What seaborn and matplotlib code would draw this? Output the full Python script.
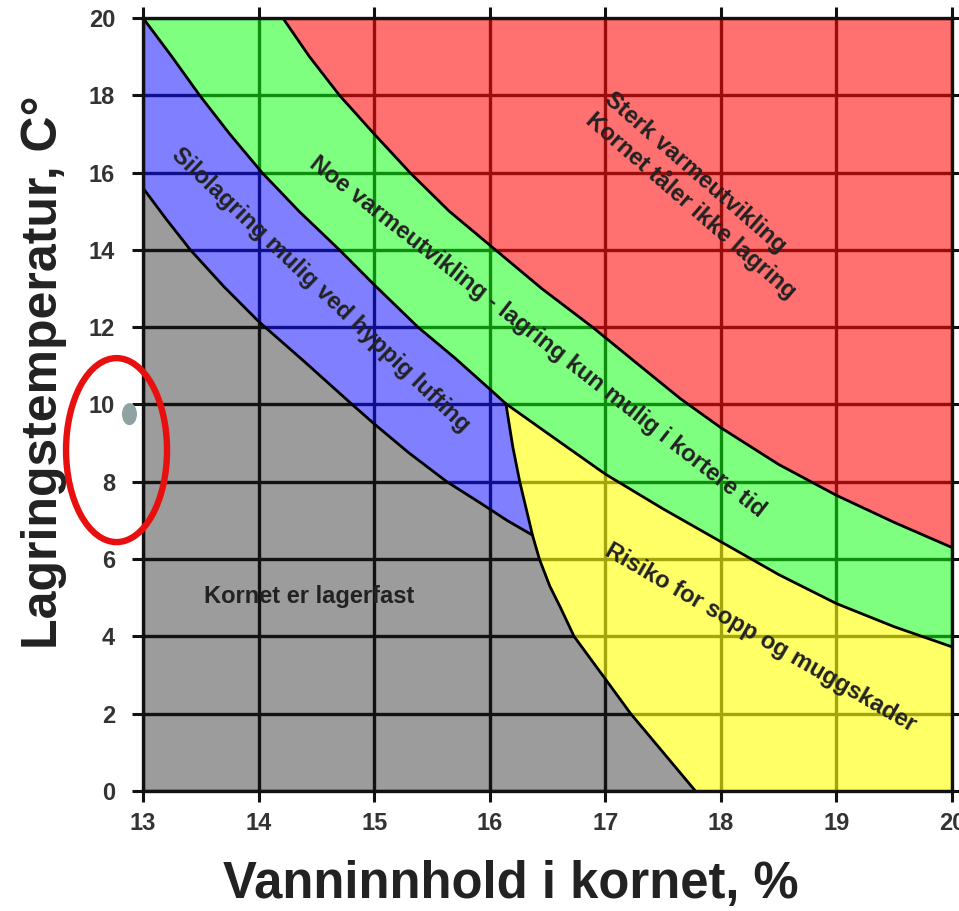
import numpy as np
import matplotlib
matplotlib.use("Agg")
import matplotlib.pyplot as plt
import seaborn as sns
from matplotlib.patches import Ellipse

# ---- data (x = water content %, y = temperature C) ----
x_ticks = [13, 14, 15, 16, 17, 18, 19, 20]
y_ticks = [0, 2, 4, 6, 8, 10, 12, 14, 16, 18, 20]

# lower edge of the blue zone (gray / blue boundary)
blue_low_x = [13.0, 13.2, 13.41, 13.7, 14.0, 14.4, 14.81, 15.0, 15.3, 15.63, 15.92, 16.15, 16.37]
blue_low_y = [15.6, 14.8, 14.0, 13.05, 12.15, 11.1, 10.0, 9.5, 8.75, 8.0, 7.45, 7.0, 6.62]

# upper edge of the blue zone (blue / green boundary)
blue_up_x = [13.0, 13.25, 13.49, 13.75, 14.03, 14.35, 14.7, 15.0, 15.38, 15.7, 16.0, 16.14]
blue_up_y = [20.0, 19.0, 18.0, 17.0, 16.0, 15.0, 14.0, 13.1, 12.0, 11.2, 10.4, 10.02]

# left edge of the yellow zone (blue+gray / yellow boundary)
yel_left_x = [16.14, 16.2, 16.26, 16.37, 16.43, 16.52, 16.61, 16.73, 16.86, 17.0, 17.22, 17.5, 17.78]
yel_left_y = [10.02, 8.9, 8.0, 6.62, 6.0, 5.3, 4.76, 4.0, 3.47, 2.9, 2.0, 1.0, 0.0]

# lower edge of the green zone (green / yellow boundary)
green_low_x = [16.14, 16.55, 17.0, 17.5, 18.0, 18.5, 19.0, 19.5, 20.0]
green_low_y = [10.02, 9.15, 8.2, 7.3, 6.45, 5.6, 4.85, 4.25, 3.73]

# lower edge of the red zone (green / red boundary)
red_low_x = [14.21, 14.44, 14.7, 15.0, 15.31, 15.65, 16.03, 16.45, 16.89, 17.3, 17.65, 18.0, 18.5, 19.0, 19.5, 20.0]
red_low_y = [20.0, 19.0, 18.0, 17.0, 16.0, 15.0, 14.05, 13.0, 12.0, 11.0, 10.15, 9.4, 8.45, 7.65, 6.95, 6.3]

zone_labels = {
    "red": "Sterk varmeutvikling\nKornet tåler ikke lagring",
    "green": "Noe varmeutvikling - lagring kun mulig i kortere tid",
    "blue": "Silolagring mulig ved hyppig lufting",
    "gray": "Kornet er lagerfast",
    "yellow": "Risiko for sopp og muggskader",
}
x_label = "Vanninnhold i kornet, %"
y_label = "Lagringstemperatur, C°"

# ---- style ----
sns.set_style("ticks")
plt.rcParams["font.family"] = ["Liberation Sans", "DejaVu Sans"]

W, H = 959, 911
fig = plt.figure(figsize=(W / 100, H / 100), dpi=100)
ax = fig.add_axes([143 / W, 1 - 791 / H, (952 - 143) / W, (791 - 18) / H])
ax.set_facecolor("white")

bl = np.column_stack([blue_low_x, blue_low_y])
bu = np.column_stack([blue_up_x, blue_up_y])
yl = np.column_stack([yel_left_x, yel_left_y])
gl = np.column_stack([green_low_x, green_low_y])
rl = np.column_stack([red_low_x, red_low_y])
split = 3  # index where the yellow edge meets the blue lower edge

gray_poly = np.vstack([[[13.0, 0.0]], yl[split:][::-1], bl[::-1][1:]])
blue_poly = np.vstack([bl, yl[:split + 1][::-1][1:], bu[::-1][1:]])
yellow_poly = np.vstack([yl, [[20.0, 0.0]], gl[::-1]])
green_poly = np.vstack([bu, gl[1:], rl[::-1]])
red_poly = np.vstack([rl, [[20.0, 20.0]]])

fills = [
    (gray_poly, (0, 0, 0), 0.39),
    (blue_poly, (0, 0, 1), 0.50),
    (yellow_poly, (1, 1, 0), 0.60),
    (green_poly, (0, 1, 0), 0.50),
    (red_poly, (1, 0, 0), 0.56),
]
for poly, col, a in fills:
    ax.fill(poly[:, 0], poly[:, 1], color=col, alpha=a, lw=0, zorder=1)

for xs, ys in [(blue_low_x, blue_low_y), (blue_up_x, blue_up_y),
               (yel_left_x, yel_left_y), (green_low_x, green_low_y),
               (red_low_x, red_low_y)]:
    sns.lineplot(x=xs, y=ys, sort=False, estimator=None, color="black",
                 lw=2.0, ax=ax, zorder=3, solid_joinstyle="round")

ax.set_xlim(13, 20)
ax.set_ylim(0, 20)
ax.set_xticks(x_ticks)
ax.set_yticks(y_ticks)
ax.set_axisbelow(True)
ax.grid(True, color="#1e1e1e", lw=2.4)

for s in ax.spines.values():
    s.set_visible(True)
    s.set_color("#111111")
    s.set_linewidth(2.4)
    s.set_zorder(4)

ax.tick_params(axis="both", which="major", direction="out", length=8, width=2.2,
               color="#111111", top=True, right=True, labeltop=False,
               labelright=False, labelsize=17, labelcolor="#333333")
ax.tick_params(axis="y", pad=12)
ax.tick_params(axis="x", pad=7)
for lab in ax.get_xticklabels() + ax.get_yticklabels():
    lab.set_fontweight("bold")
ax.set_xlabel("")
ax.set_ylabel("")

txt_kw = dict(fontsize=17, fontweight="bold", color="#222222",
              rotation_mode="anchor", ha="center", va="center", zorder=5)
ax.text(17.82, 15.40, zone_labels["red"], rotation=-41, multialignment="left",
        linespacing=1.15, **txt_kw)
ax.text(16.41, 11.75, zone_labels["green"], rotation=-38, **txt_kw)
ax.text(14.54, 12.96, zone_labels["blue"], rotation=-43.5, **txt_kw)
ax.text(14.44, 5.02, zone_labels["gray"], rotation=0, **txt_kw)
ax.text(18.34, 3.96, zone_labels["yellow"], rotation=-30, **txt_kw)

fig.text(511 / W, 1 - 898 / H, x_label, fontsize=36.5, fontweight="bold",
         color="#222222", ha="center", va="baseline")
fig.text(57 / W, 1 - 372 / H, y_label, fontsize=36, fontweight="bold",
         color="#222222", rotation=90, rotation_mode="anchor",
         ha="center", va="baseline")

# red hand-drawn ring and small dot next to the y axis
ax.add_patch(Ellipse((12.771, 8.82), 0.874, 4.76, fill=False, ec="#e8100f",
                     lw=4.6, clip_on=False, zorder=6))
ax.add_patch(Ellipse((12.883, 9.75), 0.13, 0.57, fc="#8fa3a3", ec="none",
                     clip_on=False, zorder=6))

fig.savefig("out.png", dpi=100)
